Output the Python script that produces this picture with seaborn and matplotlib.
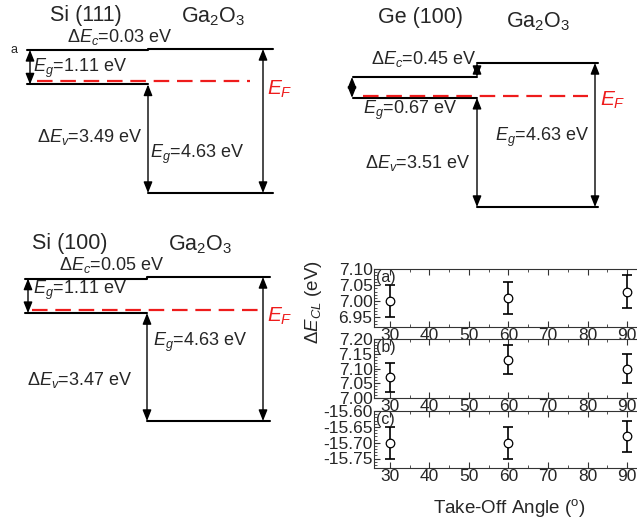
import numpy as np
import matplotlib
matplotlib.use('Agg')
import matplotlib.pyplot as plt
from matplotlib.ticker import MultipleLocator, FormatStrFormatter
import seaborn as sns
import pandas as pd

# band alignment data (eV)
substrates = ['Si (111)', 'Ge (100)', 'Si (100)']
eg_sub = [1.11, 0.67, 1.11]
delta_ev = [3.49, 3.51, 3.47]
delta_ec = [0.03, 0.45, 0.05]
eg_ga2o3 = 4.63
ef_above_vb = [0.12, 0.06, 0.10]

# core level difference vs take-off angle
angles = [30, 60, 90]
dcl_a = [7.00, 7.01, 7.03]
dcl_b = [7.07, 7.13, 7.10]
dcl_c = [-15.70, -15.70, -15.68]
dcl_err = [0.05, 0.05, 0.05]
panel_names = ['(a)', '(b)', '(c)']

sns.set_style('ticks')
plt.rcParams['font.family'] = ['Liberation Sans', 'DejaVu Sans']
plt.rcParams['mathtext.fontset'] = 'custom'
plt.rcParams['mathtext.rm'] = 'Liberation Sans'
plt.rcParams['mathtext.it'] = 'Liberation Sans:italic'
plt.rcParams['mathtext.bf'] = 'Liberation Sans:bold'

W, H = 637, 523
fig = plt.figure(figsize=(W / 100, H / 100), dpi=100)


def fx(x):
    return x / W


def fy(y):
    return 1 - y / H


# pixel layout of the three band diagrams
layout = [
    dict(xl=27, xs=148, xr=273, vb=193, xa=30, xg=263, ef=(37, 250),
         title=(86, 15), ga=(213, 17), dec=(120, 37, 'center'), egs=(33, 68),
         dev=(37, 137), egg=(150, 154), efl=(267, 89)),
    dict(xl=353, xs=477, xr=598, vb=207, xa=352, xg=595, ef=(363, 588),
         title=(420, 18), ga=(538, 22), dec=(476, 59, 'right'), egs=(363, 110),
         dev=(365, 163), egg=(495, 137), efl=(600, 100)),
    dict(xl=25, xs=147, xr=270, vb=421, xa=28, xg=263, ef=(32, 263),
         title=(70, 243), ga=(200, 245), dec=(112, 265, 'center'), egs=(33, 290),
         dev=(27, 380), egg=(153, 342), efl=(267, 316)),
]
scale = 31.1  # px per eV
arrow_kw = dict(arrowstyle='<|-|>,head_length=0.55,head_width=0.22', color='k',
                lw=1.0, shrinkA=0, shrinkB=0, mutation_scale=12)
fs_lab = 13
fs_title = 15.5

for i, L in enumerate(layout):
    ax = fig.add_axes([0, 0, 1, 1])
    ax.set_xlim(0, W)
    ax.set_ylim((L['vb'] - H) / scale, L['vb'] / scale)
    ax.axis('off')
    ax.patch.set_alpha(0)

    v_sub = delta_ev[i]
    c_sub = delta_ev[i] + eg_sub[i]
    c_ga = eg_ga2o3
    ef = v_sub + ef_above_vb[i]

    # conduction and valence bands
    if delta_ec[i] < 0.2:
        ax.plot([L['xl'], L['xs'], L['xs'], L['xr']], [c_sub, c_sub, c_ga, c_ga],
                color='k', lw=1.5)
    else:
        ax.plot([L['xl'], L['xs']], [c_sub, c_sub], color='k', lw=1.5)
        ax.plot([L['xs'], L['xr']], [c_ga, c_ga], color='k', lw=1.5)
        ax.annotate('', xy=(L['xs'], c_sub), xytext=(L['xs'], c_ga), arrowprops=arrow_kw)
    ax.plot([L['xl'], L['xs']], [v_sub, v_sub], color='k', lw=1.5)
    ax.plot([L['xs'], L['xr']], [0, 0], color='k', lw=1.5)

    # arrows: substrate gap, valence offset, Ga2O3 gap
    ax.annotate('', xy=(L['xa'], v_sub), xytext=(L['xa'], c_sub), arrowprops=arrow_kw)
    ax.annotate('', xy=(L['xs'], 0), xytext=(L['xs'], v_sub), arrowprops=arrow_kw)
    ax.annotate('', xy=(L['xg'], 0), xytext=(L['xg'], c_ga), arrowprops=arrow_kw)

    # Fermi level
    ax.plot(list(L['ef']), [ef, ef], color='#ee1c1c', lw=1.6, ls=(0, (7, 3.5)))

    fig.text(fx(L['title'][0]), fy(L['title'][1]), substrates[i], fontsize=fs_title,
             ha='center', va='center')
    fig.text(fx(L['ga'][0]), fy(L['ga'][1]), r'Ga$_2$O$_3$', fontsize=fs_title,
             ha='center', va='center')
    fig.text(fx(L['dec'][0]), fy(L['dec'][1]), r'$\Delta E_c$' + '=%.2f eV' % delta_ec[i],
             fontsize=fs_lab, ha=L['dec'][2], va='center')
    fig.text(fx(L['egs'][0]), fy(L['egs'][1]), r'$E_g$' + '=%.2f eV' % eg_sub[i],
             fontsize=fs_lab, ha='left', va='center')
    fig.text(fx(L['dev'][0]), fy(L['dev'][1]), r'$\Delta E_v$' + '=%.2f eV' % delta_ev[i],
             fontsize=fs_lab, ha='left', va='center')
    fig.text(fx(L['egg'][0]), fy(L['egg'][1]), r'$E_g$' + '=%.2f eV' % eg_ga2o3,
             fontsize=fs_lab, ha='left', va='center')
    fig.text(fx(L['efl'][0]), fy(L['efl'][1]), r'$E_F$', fontsize=15, color='#ee1c1c',
             ha='left', va='center')

fig.text(fx(14), fy(50), 'a', fontsize=9, ha='center', va='center')

# take-off angle panels
panel_px = [(269, 327), (339, 398), (411, 468)]
panel_lims = [(6.92, 7.10), (7.00, 7.20), (-15.78, -15.60)]
panel_ticks = [[6.95, 7.00, 7.05, 7.10], [7.00, 7.05, 7.10, 7.15, 7.20],
               [-15.75, -15.70, -15.65, -15.60]]
x0, x1 = 374, 643
for vals, name, (top, bot), lims, ticks in zip([dcl_a, dcl_b, dcl_c], panel_names,
                                               panel_px, panel_lims, panel_ticks):
    ax = fig.add_axes([fx(x0), fy(bot), (x1 - x0) / W, (bot - top) / H])
    df = pd.DataFrame({'angle': angles, 'dcl': vals, 'err': dcl_err})
    ax.errorbar(df['angle'], df['dcl'], yerr=df['err'], fmt='none', ecolor='k',
                elinewidth=1.2, capsize=3.5, capthick=1.2, zorder=2)
    sns.scatterplot(data=df, x='angle', y='dcl', ax=ax, marker='o', s=38,
                    facecolor='white', edgecolor='k', linewidth=0.9, zorder=3)
    ax.set_xlim(26, 94)
    ax.set_ylim(*lims)
    ax.set_xticks([30, 40, 50, 60, 70, 80, 90])
    ax.set_yticks(ticks)
    ax.xaxis.set_minor_locator(MultipleLocator(5))
    ax.yaxis.set_minor_locator(MultipleLocator(0.01))
    ax.yaxis.set_major_formatter(FormatStrFormatter('%.2f'))
    ax.tick_params(which='both', direction='in', top=True, right=True,
                   labelsize=12.5, pad=1, color='#333333')
    ax.tick_params(which='major', length=4, width=0.8)
    ax.tick_params(which='minor', length=2, width=0.6)
    ax.set_xlabel('')
    ax.set_ylabel('')
    for sp in ax.spines.values():
        sp.set_linewidth(0.8)
        sp.set_color('#333333')
    ax.text(0.008, 0.98, name, transform=ax.transAxes, fontsize=11.5, ha='left', va='top')

fig.text(fx(313), fy(302), r'$\Delta E_{CL}$ (eV)', fontsize=13.5, rotation=90,
         ha='center', va='center')
fig.text(fx(509), fy(508), r'Take-Off Angle ($^{\mathrm{o}}$)', fontsize=13.5,
         ha='center', va='center')

fig.savefig('out.png', dpi=100)
